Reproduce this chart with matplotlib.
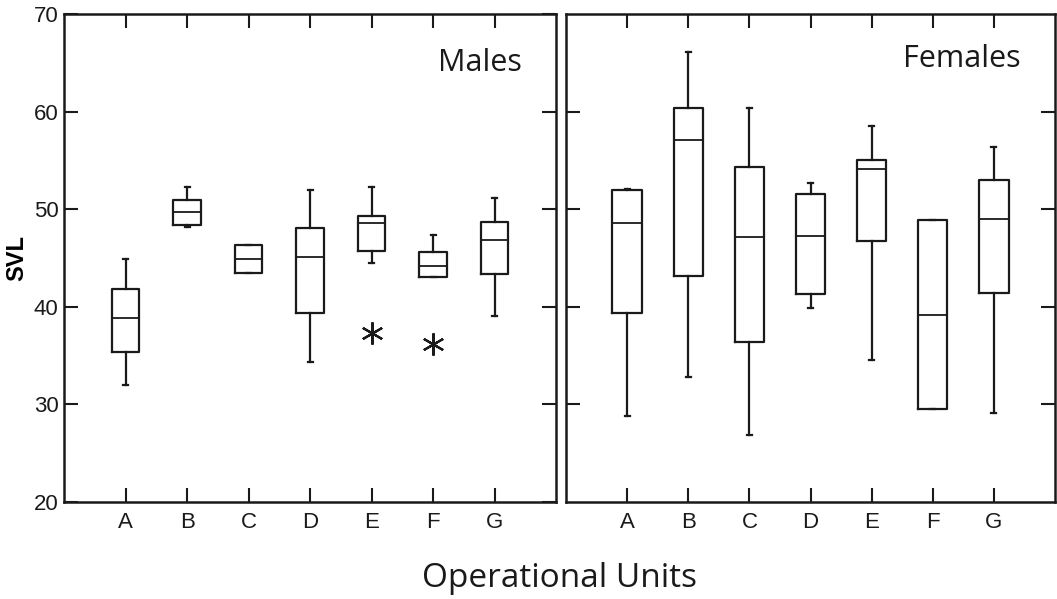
import matplotlib.pyplot as plt

# Unités opérationnelles
UNITS = ["A", "B", "C", "D", "E", "F", "G"]

# Mâles : moustaches, quartiles et médianes
MALE_LOW = [32.0, 48.2, 43.5, 34.3, 44.5, 43.0, 39.1]
MALE_Q1 = [35.4, 48.4, 43.5, 39.4, 45.7, 43.0, 43.4]
MALE_MED = [38.8, 49.7, 44.9, 45.1, 48.6, 44.2, 46.8]
MALE_Q3 = [41.8, 50.9, 46.3, 48.1, 49.3, 45.6, 48.7]
MALE_HIGH = [44.9, 52.3, 46.3, 52.0, 52.3, 47.4, 51.1]
MALE_OUTLIERS = [[], [], [], [], [37.3], [36.2], []]

# Femelles
FEMALE_LOW = [28.8, 32.8, 26.9, 39.9, 34.5, 29.55, 29.1]
FEMALE_Q1 = [39.4, 43.2, 36.4, 41.3, 46.7, 29.55, 41.4]
FEMALE_MED = [48.6, 57.1, 47.1, 47.2, 54.1, 39.2, 49.0]
FEMALE_Q3 = [52.0, 60.4, 54.3, 51.6, 55.0, 48.9, 53.0]
FEMALE_HIGH = [52.1, 66.1, 60.4, 52.7, 58.5, 48.9, 56.4]
FEMALE_OUTLIERS = [[], [], [], [], [], [], []]

Y_TICKS = [20, 30, 40, 50, 60, 70]

SANS = "Liberation Sans"
INK = "#1a1a1a"


def build_stats(low, q1, med, q3, high, outliers):
    stats = []
    for i in range(len(UNITS)):
        stats.append({
            "whislo": low[i], "q1": q1[i], "med": med[i],
            "q3": q3[i], "whishi": high[i], "fliers": outliers[i],
        })
    return stats


def draw_panel(ax, stats, title, width, title_y):
    line = dict(color=INK, linewidth=1.6)
    ax.bxp(stats, positions=range(1, len(UNITS) + 1), widths=width,
           capwidths=0.08, showfliers=True,
           boxprops=line, whiskerprops=line, capprops=line,
           medianprops=dict(color=INK, linewidth=1.3),
           flierprops=dict(marker=(6, 2, 0), markersize=16,
                           markeredgecolor=INK, markeredgewidth=1.6,
                           linestyle="none"))
    ax.set_xlim(0, 8)
    ax.set_ylim(20, 70)
    ax.set_xticks(range(1, len(UNITS) + 1))
    ax.set_xticklabels(UNITS, fontfamily=SANS, fontsize=16)
    ax.tick_params(direction="in", length=10, width=1.5, top=True, right=True,
                   pad=7, colors=INK)
    for spine in ax.spines.values():
        spine.set_linewidth(1.8)
        spine.set_color(INK)
    ax.text(0.93, title_y, title, transform=ax.transAxes, ha="right", va="center",
            fontsize=22, fontfamily="Open Sans", color=INK)


fig = plt.figure(figsize=(10.57, 5.99), dpi=100)
ax_m = fig.add_axes([0.0606, 0.162, 0.4655, 0.8147])
ax_f = fig.add_axes([0.5355, 0.162, 0.4626, 0.8147])

draw_panel(ax_m, build_stats(MALE_LOW, MALE_Q1, MALE_MED, MALE_Q3, MALE_HIGH, MALE_OUTLIERS),
           "Males", 0.45, 0.9)
draw_panel(ax_f, build_stats(FEMALE_LOW, FEMALE_Q1, FEMALE_MED, FEMALE_Q3, FEMALE_HIGH, FEMALE_OUTLIERS),
           "Females", 0.48, 0.908)

ax_m.set_yticks(Y_TICKS)
ax_m.set_yticklabels([str(v) for v in Y_TICKS], fontfamily=SANS, fontsize=16)
ax_m.tick_params(axis="y", pad=4)
ax_m.set_ylabel("SVL", fontfamily=SANS, fontsize=17, fontweight="bold", labelpad=4)

ax_f.set_yticks(Y_TICKS[1:-1])
ax_f.tick_params(labelleft=False)

fig.text(0.529, 0.035, "Operational Units", ha="center", va="center",
         fontsize=24, fontfamily="Open Sans", color=INK)

fig.savefig("out.png", dpi=100)
